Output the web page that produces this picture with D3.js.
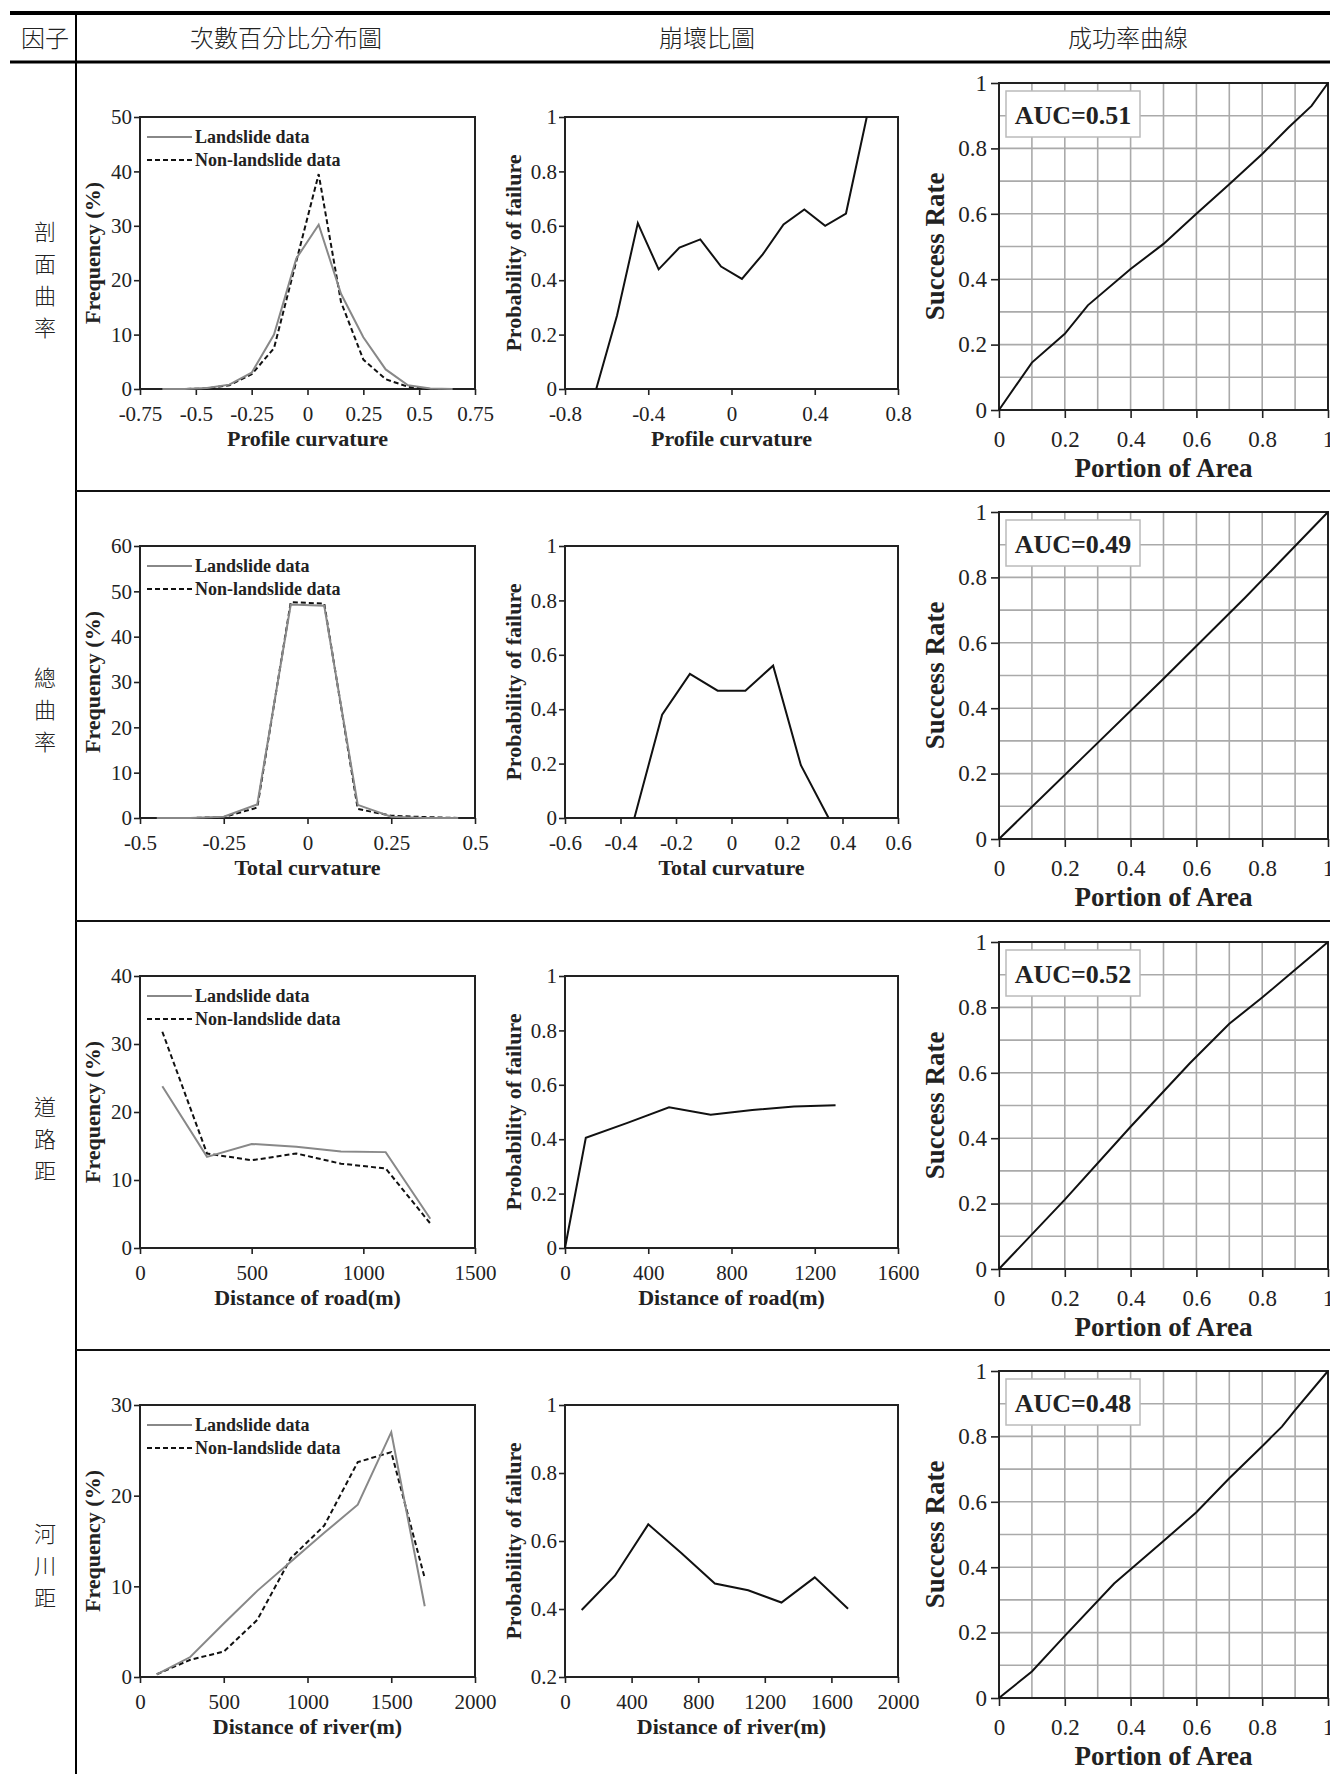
<!DOCTYPE html>
<html>
<head>
<meta charset="utf-8">
<script src="https://cdn.jsdelivr.net/npm/d3@7"></script>
<style>
  body { margin: 0; background: #fff; }
  text { font-family: "Liberation Serif", "DejaVu Serif", serif; fill: #222; }
  .cjk { font-family: "Noto Sans CJK TC", "Noto Sans CJK SC", sans-serif; }
</style>
</head>
<body>
<div id="chart"></div>
<script>
// ---- headers and factors ----
var headers = ["因子", "次數百分比分布圖", "崩壞比圖", "成功率曲線"];
var factors = ["剖面曲率", "總曲率", "道路距", "河川距"];

// ---- row 1: profile curvature ----
var profileBins = [-0.65, -0.55, -0.45, -0.35, -0.25, -0.15, -0.05, 0.05, 0.15, 0.25, 0.35, 0.45, 0.55, 0.65];
var profileLandslide = [0, 0, 0.2, 0.8, 3.0, 10, 24, 30.2, 17.5, 9.5, 3.6, 0.7, 0.1, 0];
var profileNonLandslide = [0, 0, 0.1, 0.7, 2.7, 7.5, 23.5, 39.5, 16, 5.4, 1.8, 0.4, 0, 0];
var profileFailure = [0, 0.27, 0.61, 0.44, 0.52, 0.55, 0.45, 0.405, 0.495, 0.605, 0.66, 0.60, 0.645, 1.0];
var profileFreqXTicks = [-0.75, -0.5, -0.25, 0, 0.25, 0.5, 0.75];
var profileFreqYTicks = [0, 10, 20, 30, 40, 50];
var profileFailXTicks = [-0.8, -0.4, 0, 0.4, 0.8];
var profileAreaX = [0, 0.1, 0.2, 0.27, 0.4, 0.5, 0.6, 0.7, 0.8, 0.88, 0.95, 1];
var profileSuccess = [0, 0.145, 0.233, 0.32, 0.431, 0.508, 0.6, 0.69, 0.783, 0.864, 0.93, 1];

// ---- row 2: total curvature ----
var totalBins = [-0.45, -0.35, -0.25, -0.15, -0.05, 0.05, 0.15, 0.25, 0.35, 0.45];
var totalLandslide = [0, 0, 0.3, 3.0, 47.1, 46.8, 2.9, 0.3, 0, 0];
var totalNonLandslide = [0, 0, 0.2, 2.3, 47.6, 47.3, 2.0, 0.5, 0.2, 0];
var totalFailBins = [-0.35, -0.25, -0.15, -0.05, 0.05, 0.15, 0.25, 0.35];
var totalFailure = [0, 0.38, 0.53, 0.468, 0.468, 0.56, 0.194, 0];
var totalFreqXTicks = [-0.5, -0.25, 0, 0.25, 0.5];
var totalFreqYTicks = [0, 10, 20, 30, 40, 50, 60];
var totalFailXTicks = [-0.6, -0.4, -0.2, 0, 0.2, 0.4, 0.6];
var totalAreaX = [0, 0.25, 0.5, 0.75, 1];
var totalSuccess = [0, 0.245, 0.49, 0.74, 1];

// ---- row 3: distance of road ----
var roadBins = [100, 300, 500, 700, 900, 1100, 1300];
var roadLandslide = [23.8, 13.4, 15.3, 14.9, 14.2, 14.1, 4.3];
var roadNonLandslide = [31.8, 13.9, 12.9, 13.9, 12.4, 11.7, 3.6];
var roadFailBins = [0, 100, 300, 500, 700, 900, 1100, 1300];
var roadFailure = [0, 0.405, 0.46, 0.517, 0.49, 0.507, 0.52, 0.525];
var roadFreqXTicks = [0, 500, 1000, 1500];
var roadFreqYTicks = [0, 10, 20, 30, 40];
var roadFailXTicks = [0, 400, 800, 1200, 1600];
var roadAreaX = [0, 0.2, 0.4, 0.58, 0.7, 0.8, 0.9, 1];
var roadSuccess = [0, 0.212, 0.435, 0.629, 0.75, 0.83, 0.915, 1];

// ---- row 4: distance of river ----
var riverBins = [100, 300, 500, 700, 900, 1100, 1300, 1500, 1700];
var riverLandslide = [0.3, 2.2, 5.9, 9.5, 12.7, 15.9, 19.0, 27.0, 7.8];
var riverNonLandslide = [0.3, 1.9, 2.8, 6.3, 13.1, 16.7, 23.7, 24.8, 10.9];
var riverFailure = [0.397, 0.498, 0.649, 0.564, 0.475, 0.455, 0.419, 0.493, 0.401];
var riverFreqXTicks = [0, 500, 1000, 1500, 2000];
var riverFreqYTicks = [0, 10, 20, 30];
var riverFailXTicks = [0, 400, 800, 1200, 1600, 2000];
var riverFailYTicks = [0.2, 0.4, 0.6, 0.8, 1];
var riverAreaX = [0, 0.1, 0.2, 0.35, 0.5, 0.6, 0.7, 0.8, 0.86, 0.9, 1];
var riverSuccess = [0, 0.081, 0.19, 0.35, 0.48, 0.568, 0.672, 0.77, 0.83, 0.88, 1];

var failYTicks = [0, 0.2, 0.4, 0.6, 0.8, 1];
var successTicks = [0, 0.2, 0.4, 0.6, 0.8, 1];
var aucLabels = ["AUC=0.51", "AUC=0.49", "AUC=0.52", "AUC=0.48"];
var freqLabels = ["Profile curvature", "Total curvature", "Distance of road(m)", "Distance of river(m)"];
var legendNames = ["Landslide data", "Non-landslide data"];

var rows = [
  {freqX: profileBins, ls: profileLandslide, nls: profileNonLandslide, failX: profileBins, fail: profileFailure,
   fxt: profileFreqXTicks, fyt: profileFreqYTicks, pxt: profileFailXTicks, pyt: failYTicks, ax: profileAreaX, sr: profileSuccess},
  {freqX: totalBins, ls: totalLandslide, nls: totalNonLandslide, failX: totalFailBins, fail: totalFailure,
   fxt: totalFreqXTicks, fyt: totalFreqYTicks, pxt: totalFailXTicks, pyt: failYTicks, ax: totalAreaX, sr: totalSuccess},
  {freqX: roadBins, ls: roadLandslide, nls: roadNonLandslide, failX: roadFailBins, fail: roadFailure,
   fxt: roadFreqXTicks, fyt: roadFreqYTicks, pxt: roadFailXTicks, pyt: failYTicks, ax: roadAreaX, sr: roadSuccess},
  {freqX: riverBins, ls: riverLandslide, nls: riverNonLandslide, failX: riverBins, fail: riverFailure,
   fxt: riverFreqXTicks, fyt: riverFreqYTicks, pxt: riverFailXTicks, pyt: riverFailYTicks, ax: riverAreaX, sr: riverSuccess}
];

var width = 1330, height = 1774;
var rowTops = [62, 491, 921, 1350];

var svg = d3.select("#chart").append("svg")
  .attr("width", width)
  .attr("height", height);

// table rules
svg.append("line").attr("x1", 10).attr("x2", width).attr("y1", 13).attr("y2", 13)
  .attr("stroke", "#000").attr("stroke-width", 4);
svg.append("line").attr("x1", 10).attr("x2", width).attr("y1", rowTops[0]).attr("y2", rowTops[0])
  .attr("stroke", "#000").attr("stroke-width", 3);
svg.append("line").attr("x1", 76).attr("x2", 76).attr("y1", 13).attr("y2", height)
  .attr("stroke", "#000").attr("stroke-width", 2);
rowTops.slice(1).forEach(function(y) {
  svg.append("line").attr("x1", 76).attr("x2", width).attr("y1", y).attr("y2", y)
    .attr("stroke", "#111").attr("stroke-width", 2);
});

var headerX = [45, 286, 707, 1128];
headers.forEach(function(h, i) {
  svg.append("text").attr("class", "cjk")
    .attr("x", headerX[i]).attr("y", 47)
    .attr("text-anchor", "middle")
    .style("font-size", "24px")
    .style("font-weight", "300")
    .text(h);
});

factors.forEach(function(f, i) {
  var mid = (rowTops[i] + (i < 3 ? rowTops[i + 1] : height)) / 2 + 4;
  var chars = f.split("");
  chars.forEach(function(c, j) {
    svg.append("text").attr("class", "cjk")
      .attr("x", 45)
      .attr("y", mid + (j - (chars.length - 1) / 2) * 32)
      .attr("dy", "0.36em")
      .attr("text-anchor", "middle")
      .style("font-size", "22px")
      .style("font-weight", "300")
      .text(c);
  });
});

var fmt = function(d) { return String(d); };

function axes(g, x, y, xt, yt, w, h, o) {
  var xa = g.append("g").attr("transform", "translate(0," + h + ")")
    .call(d3.axisBottom(x).tickValues(xt).tickFormat(fmt).tickSize(o.tick).tickSizeOuter(0).tickPadding(o.xpad));
  var ya = g.append("g")
    .call(d3.axisLeft(y).tickValues(yt).tickFormat(fmt).tickSize(o.tick).tickSizeOuter(0).tickPadding(o.ypad));
  [xa, ya].forEach(function(a) {
    a.select(".domain").remove();
    a.selectAll(".tick line").attr("stroke", "#222").attr("stroke-width", 1.6);
    a.selectAll(".tick text").style("font-size", o.font + "px").style("font-family", "Liberation Serif").attr("fill", "#222");
  });
  g.append("rect").attr("width", w).attr("height", h)
    .attr("fill", "none").attr("stroke", "#222").attr("stroke-width", 2);
}

function axisLabels(g, w, h, xl, yl, xOff, yOff, size) {
  g.append("text").attr("x", w / 2).attr("y", h + yOff)
    .attr("text-anchor", "middle").style("font-weight", "bold").style("font-size", size + "px")
    .text(xl);
  g.append("text")
    .attr("transform", "translate(" + xOff + "," + (h / 2) + ") rotate(-90)")
    .attr("text-anchor", "middle").attr("dy", "0.35em")
    .style("font-weight", "bold").style("font-size", size + "px")
    .text(yl);
}

var smallAxis = {tick: 6, xpad: 11, ypad: 2, font: 21};
var bigAxis = {tick: 8, xpad: 13, ypad: 4, font: 23};

rows.forEach(function(r, i) {
  var top = rowTops[i];

  // frequency distribution
  var fw = 335, fh = 272;
  var g1 = svg.append("g").attr("transform", "translate(140," + (top + 55) + ")");
  var x1 = d3.scaleLinear().domain(d3.extent(r.fxt)).range([0, fw]);
  var y1 = d3.scaleLinear().domain(d3.extent(r.fyt)).range([fh, 0]);
  axes(g1, x1, y1, r.fxt, r.fyt, fw, fh, smallAxis);
  axisLabels(g1, fw, fh, freqLabels[i], "Frequency (%)", -48, 57, 22);
  var line1 = d3.line().x(function(d) { return x1(d[0]); }).y(function(d) { return y1(d[1]); });
  g1.append("path").datum(d3.zip(r.freqX, r.nls)).attr("d", line1)
    .attr("fill", "none").attr("stroke", "#111").attr("stroke-width", 2).attr("stroke-dasharray", "5,3");
  g1.append("path").datum(d3.zip(r.freqX, r.ls)).attr("d", line1)
    .attr("fill", "none").attr("stroke", "#888").attr("stroke-width", 2);
  // legend
  legendNames.forEach(function(n, k) {
    var ly = 20 + k * 23;
    g1.append("line").attr("x1", 7).attr("x2", 52).attr("y1", ly).attr("y2", ly)
      .attr("stroke", k === 0 ? "#888" : "#111").attr("stroke-width", 2)
      .attr("stroke-dasharray", k === 0 ? null : "5,3");
    g1.append("text").attr("x", 55).attr("y", ly + 6)
      .style("font-weight", "bold").style("font-size", "18px").text(n);
  });

  // probability of failure
  var pw = 333, ph = 272;
  var g2 = svg.append("g").attr("transform", "translate(565," + (top + 55) + ")");
  var x2 = d3.scaleLinear().domain(d3.extent(r.pxt)).range([0, pw]);
  var y2 = d3.scaleLinear().domain(d3.extent(r.pyt)).range([ph, 0]);
  axes(g2, x2, y2, r.pxt, r.pyt, pw, ph, smallAxis);
  axisLabels(g2, pw, ph, freqLabels[i], "Probability of failure", -52, 57, 22);
  g2.append("path").datum(d3.zip(r.failX, r.fail))
    .attr("d", d3.line().x(function(d) { return x2(d[0]); }).y(function(d) { return y2(d[1]); }))
    .attr("fill", "none").attr("stroke", "#111").attr("stroke-width", 2);

  // success rate curve
  var sw = 329, sh = 327;
  var g3 = svg.append("g").attr("transform", "translate(999," + (top + 21) + ")");
  var x3 = d3.scaleLinear().domain([0, 1]).range([0, sw]);
  var y3 = d3.scaleLinear().domain([0, 1]).range([sh, 0]);
  var grid = x3.ticks(10).slice(1, -1);
  g3.selectAll(".gv").data(grid).enter().append("line")
    .attr("x1", function(d) { return x3(d); }).attr("x2", function(d) { return x3(d); })
    .attr("y1", 0).attr("y2", sh).attr("stroke", "#aaa").attr("stroke-width", 1.6);
  g3.selectAll(".gh").data(grid).enter().append("line")
    .attr("y1", function(d) { return y3(d); }).attr("y2", function(d) { return y3(d); })
    .attr("x1", 0).attr("x2", sw).attr("stroke", "#aaa").attr("stroke-width", 1.6);
  axes(g3, x3, y3, successTicks, successTicks, sw, sh, bigAxis);
  axisLabels(g3, sw, sh, "Portion of Area", "Success Rate", -64, 67, 27);
  g3.append("path").datum(d3.zip(r.ax, r.sr))
    .attr("d", d3.line().x(function(d) { return x3(d[0]); }).y(function(d) { return y3(d[1]); }))
    .attr("fill", "none").attr("stroke", "#111").attr("stroke-width", 2);
  g3.append("rect").attr("x", 7).attr("y", 8).attr("width", 134).attr("height", 46)
    .attr("fill", "#fff").attr("stroke", "#bbb").attr("stroke-width", 1.5);
  g3.append("text").attr("x", 74).attr("y", 41).attr("text-anchor", "middle")
    .style("font-weight", "bold").style("font-size", "26px").text(aucLabels[i]);
});
</script>
</body>
</html>
